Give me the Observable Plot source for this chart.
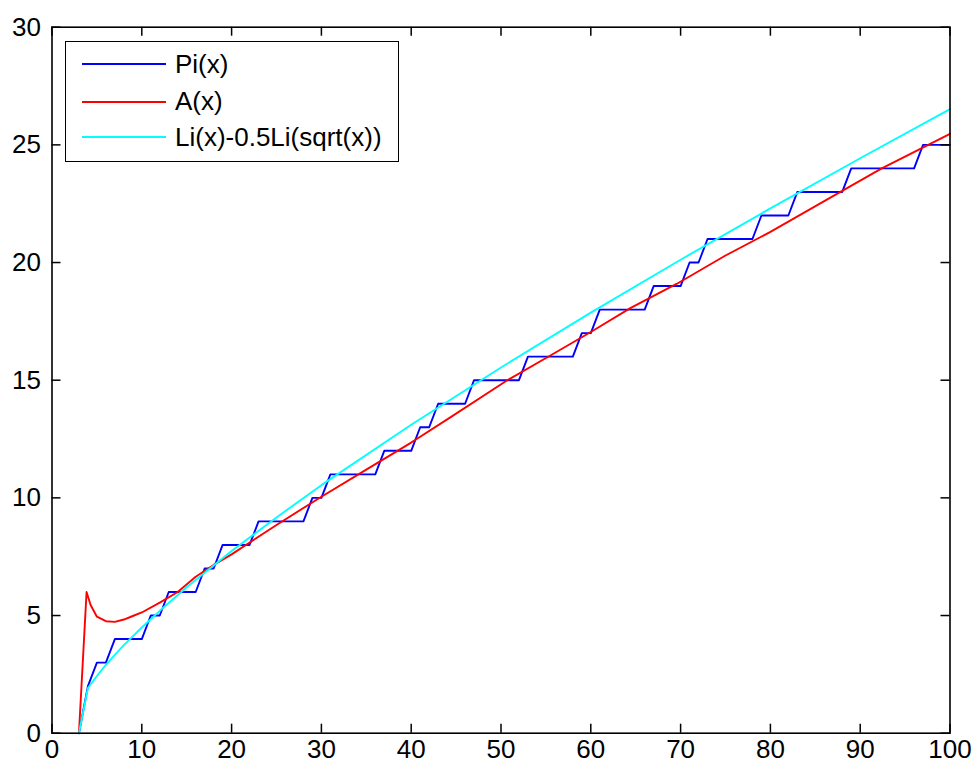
<!DOCTYPE html>
<html>
<head>
<meta charset="utf-8">
<script src="https://cdn.jsdelivr.net/npm/d3@7"></script>
<script src="https://cdn.jsdelivr.net/npm/@observablehq/plot@0.6"></script>
<style>
  html, body { margin: 0; padding: 0; background: #fff; }
  #wrap { position: relative; width: 974px; height: 767px; font-family: "Liberation Sans", Arial, sans-serif; }
  #legend { position: absolute; left: 65px; top: 41px; width: 334px; height: 121px; border: 1.6px solid #000; background: #fff; box-sizing: border-box; }
  .item { position: absolute; left: 0; height: 30px; display: flex; align-items: center; }
  .swatch { width: 84px; height: 2px; margin-left: 16px; margin-right: 9px; }
  .lab { font-size: 26px; color: #000; white-space: nowrap; }
</style>
</head>
<body>
<div id="wrap"><div id="legend"></div></div>
<script>
// ---- data ----
// Pi(x): corner points of the sampled prime-counting curve
const piX = [3,4,5,6,7,10,11,12,13,16,17,18,19,22,23,28,29,30,31,36,37,40,41,42,43,46,47,52,53,58,59,60,61,66,67,70,71,72,73,78,79,82,83,88,89,96,97,100];
const piY = [0,2,3,3,4,4,5,5,6,6,7,7,8,8,9,9,10,10,11,11,12,12,13,13,14,14,15,15,16,16,17,17,18,18,19,19,20,20,21,21,22,22,23,23,24,24,25,25];
// A(x)
const aX = [3,3.85,4.3,5,6,7,8,9,10,12,14,16,18,20,25,30,35,40,44.4,50.7,55.5,60,64.4,69.6,75,80,87.8,92.4,100];
const aY = [0,6.0,5.45,4.95,4.76,4.73,4.83,4.98,5.13,5.55,6.0,6.65,7.15,7.6,8.85,10.05,11.2,12.35,13.43,15.0,16.05,17.05,18.06,19.1,20.3,21.3,23.0,24.0,25.47];
// Li(x)-0.5Li(sqrt(x))
const liX = [3,4,5,6,7,8,10,12,15,20,25,30,40,50,60,70,80,90,100];
const liY = [0,1.92,2.43,2.9,3.33,3.74,4.49,5.2,6.2,7.74,9.17,10.54,13.11,15.54,17.87,20.12,22.3,24.43,26.52];

const seriesNames = ["Pi(x)", "A(x)", "Li(x)-0.5Li(sqrt(x))"];
const seriesColors = ["#0000ff", "#ff0000", "#00ffff"];
const xTicks = [0,10,20,30,40,50,60,70,80,90,100];
const yTicks = [0,5,10,15,20,25,30];

// ---- build ----
const piData = piX.map((x, i) => ({x, y: piY[i]}));
const aData = aX.map((x, i) => ({x, y: aY[i]}));
const liData = liX.map((x, i) => ({x, y: liY[i]}));

const W = 974, H = 767, mL = 51.5, mR = 24.5, mT = 26.7, mB = 34.3;
const plotW = W - mL - mR, plotH = H - mT - mB;
const tl = 9;

const chart = Plot.plot({
  width: W, height: H,
  marginLeft: mL, marginRight: mR, marginTop: mT, marginBottom: mB,
  x: {domain: [0, 100]},
  y: {domain: [0, 30]},
  style: {fontFamily: "'Liberation Sans', Arial, sans-serif", fontSize: "26px", color: "#000", background: "#fff", overflow: "visible"},
  marks: [
    Plot.line(piData, {x: "x", y: "y", stroke: seriesColors[0], strokeWidth: 1.9}),
    Plot.line(aData, {x: "x", y: "y", stroke: seriesColors[1], strokeWidth: 1.9}),
    Plot.line(liData, {x: "x", y: "y", stroke: seriesColors[2], strokeWidth: 1.9}),
    Plot.tickX(xTicks, {x: d => d, insetTop: plotH - tl, stroke: "#000", strokeWidth: 1.5}),
    Plot.tickX(xTicks, {x: d => d, insetBottom: plotH - tl, stroke: "#000", strokeWidth: 1.5}),
    Plot.tickY(yTicks, {y: d => d, insetRight: plotW - tl, stroke: "#000", strokeWidth: 1.5}),
    Plot.tickY(yTicks, {y: d => d, insetLeft: plotW - tl, stroke: "#000", strokeWidth: 1.5}),
    Plot.frame({stroke: "#000", strokeWidth: 1.6}),
    Plot.axisX(xTicks, {tickSize: 0, tickPadding: 6, fontSize: 26, label: null}),
    Plot.axisY(yTicks, {tickSize: 0, tickPadding: 11, fontSize: 26, label: null})
  ]
});
const wrap = document.getElementById("wrap");
wrap.insertBefore(chart, wrap.firstChild);

const legend = document.getElementById("legend");
const rowCenters = [22, 59.5, 95];
seriesNames.forEach((name, i) => {
  const item = document.createElement("div");
  item.className = "item";
  item.style.top = (rowCenters[i] - 15) + "px";
  const sw = document.createElement("div");
  sw.className = "swatch";
  sw.style.background = seriesColors[i];
  const lab = document.createElement("span");
  lab.className = "lab";
  lab.textContent = name;
  item.appendChild(sw);
  item.appendChild(lab);
  legend.appendChild(item);
});
</script>
</body>
</html>
